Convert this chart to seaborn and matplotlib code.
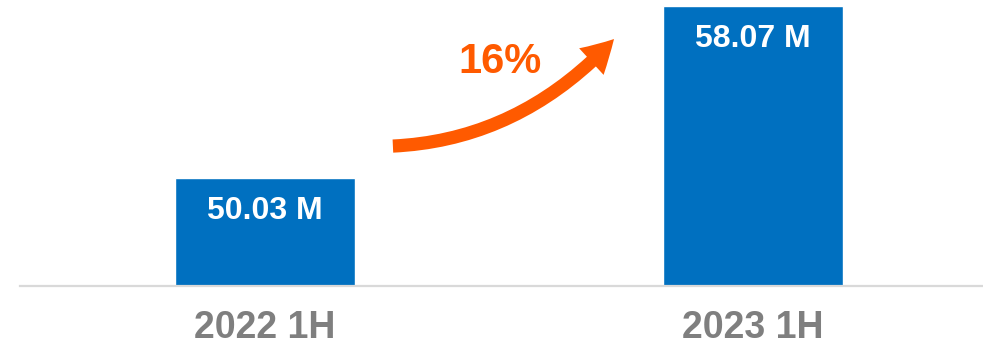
import matplotlib
matplotlib.use("Agg")
import matplotlib.pyplot as plt
from matplotlib.patches import FancyArrowPatch, ArrowStyle
from matplotlib.path import Path
import seaborn as sns
import pandas as pd

periods = ["2022 1H", "2023 1H"]
users_m = [50.03, 58.07]
growth_label = "16%"

BLUE = "#0070C0"
ORANGE = "#FF5A00"
GREY = "#7F7F7F"

sns.set_style("white")
plt.rcParams["font.family"] = ["Liberation Sans", "DejaVu Sans"]

df = pd.DataFrame({"period": periods, "users": users_m})

fig = plt.figure(figsize=(9.83, 3.47), dpi=100)
ax = fig.add_axes([20 / 983, 61.5 / 347, 963 / 983, 285.5 / 347])

sns.barplot(data=df, x="period", y="users", color=BLUE, width=0.369,
            saturation=1, ax=ax)

ax.set_xlim(-0.502, 1.471)
ax.set_ylim(45.04, 58.35)

for i, v in enumerate(users_m):
    ax.annotate(f"{v:.2f} M", xy=(i, v), xytext=(0, -23.5),
                textcoords="offset points", ha="center", va="center",
                color="white", fontsize=23, fontweight="bold")

# curved growth arrow between the bars
verts = [(0.262, 51.54), (0.523, 51.82), (0.715, 56.53)]
path = Path(verts, [Path.MOVETO, Path.CURVE3, Path.CURVE3])
arrow = FancyArrowPatch(path=path,
                        arrowstyle=ArrowStyle.Simple(head_length=23, head_width=26,
                                                     tail_width=9.5),
                        mutation_scale=1, color=ORANGE, lw=0,
                        shrinkA=0, shrinkB=0, transform=ax.transData)
ax.add_patch(arrow)
ax.text(0.482, 55.46, growth_label, ha="center", va="center",
        color=ORANGE, fontsize=30, fontweight="bold")

ax.set_xlabel("")
ax.set_ylabel("")
ax.set_yticks([])
ax.tick_params(axis="x", length=0, pad=18, labelsize=27, labelcolor=GREY)
for lbl in ax.get_xticklabels():
    lbl.set_fontweight("bold")

for side in ["top", "right", "left"]:
    ax.spines[side].set_visible(False)
ax.spines["bottom"].set_color("#D9D9D9")
ax.spines["bottom"].set_linewidth(1.6)

fig.savefig("out.png", dpi=100)
